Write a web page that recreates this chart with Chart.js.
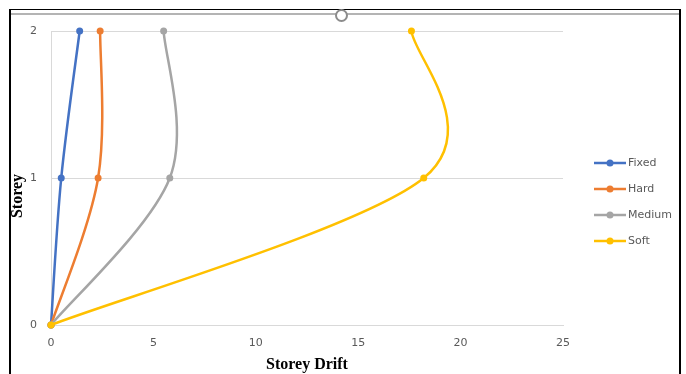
<!DOCTYPE html>
<html>
<head>
<meta charset="utf-8">
<script src="https://cdn.jsdelivr.net/npm/chart.js@4.4.1/dist/chart.umd.min.js"></script>
<style>
  html, body { margin: 0; padding: 0; background: #ffffff; }
  #wrap { position: relative; width: 686px; height: 374px; overflow: hidden; background: #ffffff; }
  #chart { position: absolute; left: 0; top: 0; }
  .edge { position: absolute; pointer-events: none; }
  #topEdge { left: 9px; top: 9px; width: 671px; height: 1px; background: #000; }
  #leftEdge { left: 9px; top: 9px; width: 2px; height: 380px; background: #000; }
  #rightEdge { left: 679px; top: 9px; width: 2px; height: 380px; background: #000; }
  #bar { left: 11px; top: 13px; width: 668px; height: 2px; background: #b4b4b4; }
  #handle { left: 335px; top: 9px; width: 9px; height: 9px; border: 2px solid #8c8c8c; border-radius: 50%; background: #fff; }
</style>
</head>
<body>
<div id="wrap">
  <canvas id="chart" width="686" height="374"></canvas>
  <div class="edge" id="topEdge"></div>
  <div class="edge" id="leftEdge"></div>
  <div class="edge" id="rightEdge"></div>
  <div class="edge" id="bar"></div>
  <div class="edge" id="handle"></div>
</div>
<script>
// Storey levels and drift per support condition
const storeys = [0, 1, 2];
const fixedDrift = [0, 0.5, 1.4];
const hardDrift = [0, 2.3, 2.4];
const mediumDrift = [0, 5.8, 5.5];
const softDrift = [0, 18.2, 17.6];

const seriesNames = ['Fixed', 'Hard', 'Medium', 'Soft'];
const seriesColors = ['#4472C4', '#ED7D31', '#A5A5A5', '#FFC000'];
const seriesDrift = [fixedDrift, hardDrift, mediumDrift, softDrift];

const xTicks = [0, 5, 10, 15, 20, 25];
const yTicks = [0, 1, 2];
const xTitle = 'Storey Drift';
const yTitle = 'Storey';

const tickFont = { family: 'DejaVu Sans', size: 11 };
const tickColor = '#595959';
const gridColor = '#d9d9d9';
const titleFont = 'bold 16px "Liberation Serif"';

function toPoints(drift) {
  return drift.map((d, i) => ({ x: d, y: storeys[i] }));
}

const datasets = seriesNames.map((name, i) => ({
  label: name,
  data: toPoints(seriesDrift[i]),
  borderColor: seriesColors[i],
  backgroundColor: seriesColors[i],
  borderWidth: 2.5,
  pointRadius: 3.5,
  pointHoverRadius: 3.5,
  pointBorderWidth: 0,
  showLine: true,
  tension: 0.4,
  clip: false,
  order: seriesNames.length - i
}));

// Office-style smoothing (Catmull-Rom handles of 1/6 of the neighbour
// chord; the end points repeat themselves as their missing neighbour).
const officeSmoothing = {
  id: 'officeSmoothing',
  beforeDatasetDraw(chart, args) {
    const meta = args.meta;
    const pts = meta.data;
    const n = pts.length;
    for (let i = 0; i < n; i++) {
      const p = pts[i];
      const prev = pts[Math.max(i - 1, 0)];
      const next = pts[Math.min(i + 1, n - 1)];
      const dx = (next.x - prev.x) / 6;
      const dy = (next.y - prev.y) / 6;
      p.cp1x = p.x - dx; p.cp1y = p.y - dy;
      p.cp2x = p.x + dx; p.cp2y = p.y + dy;
    }
    if (meta.dataset) {
      meta.dataset._pointsUpdated = true;
      meta.dataset._path = undefined;
    }
  }
};

// Legend on the right plus the rotated storey title
const sideLegend = {
  id: 'sideLegend',
  afterDraw(chart) {
    const ctx = chart.ctx;
    ctx.save();
    ctx.font = '11px "DejaVu Sans"';
    ctx.textBaseline = 'middle';
    ctx.textAlign = 'left';
    seriesNames.forEach((name, i) => {
      const y = 163 + i * 26;
      ctx.strokeStyle = seriesColors[i];
      ctx.lineWidth = 2.5;
      ctx.beginPath();
      ctx.moveTo(594, y);
      ctx.lineTo(626, y);
      ctx.stroke();
      ctx.fillStyle = seriesColors[i];
      ctx.beginPath();
      ctx.arc(610, y, 3.5, 0, Math.PI * 2);
      ctx.fill();
      ctx.fillStyle = tickColor;
      ctx.fillText(name, 628, y);
    });

    ctx.translate(18, 196);
    ctx.rotate(-Math.PI / 2);
    ctx.font = titleFont;
    ctx.fillStyle = '#000';
    ctx.textAlign = 'center';
    ctx.fillText(yTitle, 0, 0);
    ctx.restore();
  }
};

new Chart(document.getElementById('chart'), {
  type: 'scatter',
  data: { datasets },
  plugins: [officeSmoothing, sideLegend],
  options: {
    responsive: false,
    animation: false,
    devicePixelRatio: 1,
    layout: { padding: { left: 5, right: 123, top: 31, bottom: 0 } },
    plugins: { legend: { display: false }, tooltip: { enabled: false } },
    scales: {
      x: {
        type: 'linear',
        min: 0,
        max: 25,
        afterBuildTicks(scale) { scale.ticks = xTicks.map(v => ({ value: v })); },
        afterFit(scale) { scale.height = 49; },
        ticks: { font: tickFont, color: tickColor, padding: 12 },
        grid: { display: false, drawTicks: false },
        border: { display: true, color: gridColor, width: 1 },
        title: {
          display: true,
          text: xTitle,
          font: { family: 'Liberation Serif', size: 16, weight: 'bold', lineHeight: 1.125 },
          color: '#000',
          padding: { top: 0, bottom: 0 }
        }
      },
      y: {
        type: 'linear',
        min: 0,
        max: 2,
        afterBuildTicks(scale) { scale.ticks = yTicks.map(v => ({ value: v })); },
        afterFit(scale) { scale.width = 46; },
        ticks: { font: tickFont, color: tickColor, padding: 14 },
        grid: { color: gridColor, lineWidth: 1, drawTicks: false },
        border: { display: true, color: gridColor, width: 1 }
      }
    }
  }
});
</script>
</body>
</html>
